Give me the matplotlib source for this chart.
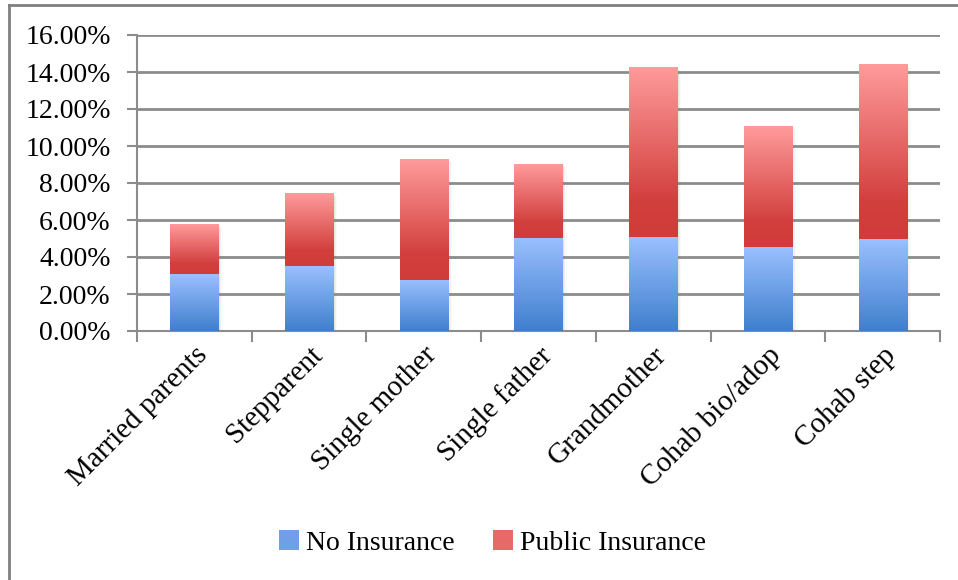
import numpy as np
import matplotlib.pyplot as plt
from matplotlib.patches import Patch
from matplotlib.lines import Line2D
from matplotlib.colors import LinearSegmentedColormap

categories = ['Married parents', 'Stepparent', 'Single mother', 'Single father',
              'Grandmother', 'Cohab bio/adop', 'Cohab step']
no_insurance = [3.08, 3.51, 2.76, 5.03, 5.08, 4.54, 4.97]
public_insurance = [2.65, 3.90, 6.54, 4.00, 9.14, 6.54, 9.41]
y_ticks = [0, 2, 4, 6, 8, 10, 12, 14, 16]

plt.rcParams['font.family'] = ['Liberation Serif', 'DejaVu Serif']
fs = 20

blue_cmap = LinearSegmentedColormap.from_list('blue', [(0, '#3f7fcd'), (1, '#9ac0ff')])
red_cmap = LinearSegmentedColormap.from_list('red', [(0, '#cf3c3a'), (0.22, '#d2403e'), (1, '#ff9b9b')])

fig = plt.figure(figsize=(9.58, 5.8), dpi=100, facecolor='white')
ax = fig.add_axes([137 / 958, 1 - 331 / 580, 803 / 958, 296 / 580])

x = np.arange(len(categories))
width = 0.42
grad = np.linspace(0, 1, 256).reshape(-1, 1)

for xi, b, p in zip(x, no_insurance, public_insurance):
    top = b + p
    # soft shadow
    for k, a in enumerate([0.10, 0.07, 0.04]):
        off = 0.012 * (k + 1)
        ax.add_patch(plt.Rectangle((xi - width / 2 + off, -0.06 * (k + 1)), width, top,
                                   facecolor='#808080', alpha=a, edgecolor='none', zorder=2))
    ax.imshow(grad, cmap=blue_cmap, origin='lower', aspect='auto',
              extent=(xi - width / 2, xi + width / 2, 0, b), zorder=3)
    ax.imshow(grad, cmap=red_cmap, origin='lower', aspect='auto',
              extent=(xi - width / 2, xi + width / 2, b, top), zorder=3)

ax.set_xlim(-0.5, len(categories) - 0.5)
ax.set_ylim(0, 16)
ax.set_yticks(y_ticks)
ax.set_yticklabels([f'{v:.2f}%' for v in y_ticks], fontsize=fs)
ax.grid(axis='y', color='#8c8c8c', linewidth=2, zorder=1)
ax.set_axisbelow(True)

ax.set_xticks(x)
ax.set_xticklabels(categories, rotation=45, ha='right', rotation_mode='anchor', fontsize=21)
ax.set_xticks(np.arange(-0.5, len(categories)), minor=True)
ax.tick_params(axis='x', which='major', length=0, pad=8)
ax.tick_params(axis='x', which='minor', length=8, width=1.5, color='#8c8c8c', direction='out')
ax.tick_params(axis='y', length=7, width=1.5, color='#8c8c8c', direction='out', pad=12)

for side in ['top', 'right']:
    ax.spines[side].set_visible(False)
for side in ['left', 'bottom']:
    ax.spines[side].set_color('#8c8c8c')
    ax.spines[side].set_linewidth(1.5)

handles = [Patch(facecolor='#6f9fe6', edgecolor='none', label='No Insurance'),
           Patch(facecolor='#e86a68', edgecolor='none', label='Public Insurance')]
fig.legend(handles=handles, loc='center', bbox_to_anchor=(0.514, 1 - 543 / 580), ncol=2,
           frameon=False, fontsize=fs, handlelength=0.7, handleheight=0.7,
           handletextpad=0.25, columnspacing=1.4)

# outer frame (cropped)
fig.add_artist(Line2D([8.5 / 958, 8.5 / 958], [0, 1 - 5 / 580], color='#808080', linewidth=2))
fig.add_artist(Line2D([8.5 / 958, 1], [1 - 5 / 580, 1 - 5 / 580], color='#808080', linewidth=2))

fig.savefig('out.png', dpi=100, facecolor='white')
